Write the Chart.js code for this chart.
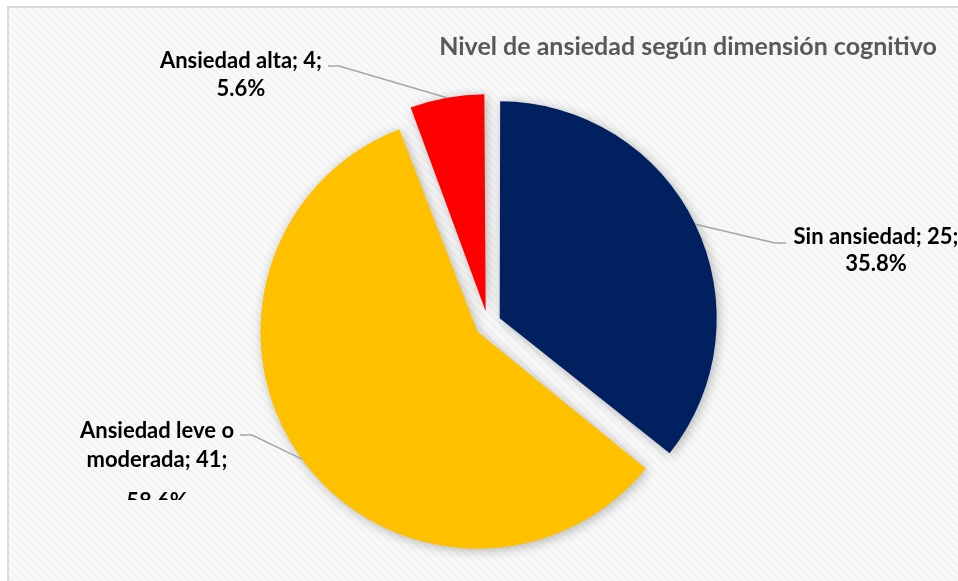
<!DOCTYPE html>
<html lang="es">
<head>
  <meta charset="UTF-8" />
  <title>Nivel de ansiedad según dimensión cognitivo</title>

  <!-- Chart.js from CDN -->
  <script src="https://cdn.jsdelivr.net/npm/chart.js@4"></script>

  <style>
    body {
      margin: 0;
      background: #fff;
    }
    canvas {
      display: block;
    }
  </style>
</head>
<body>
  <canvas id="pieChart" width="958" height="581"></canvas>

  <script>
    // Values
    const categories = ["Sin ansiedad", "Ansiedad leve o moderada", "Ansiedad alta"];
    const counts = [25, 41, 4];
    const percentLabels = ["35.8%", "58.6%", "5.6%"];
    const sliceColors = ["#002060", "#FFC000", "#FF0000"];
    const chartTitle = "Nivel de ansiedad según dimensión cognitivo";

    const W = 958, H = 581;
    const R = 217;        // pie radius (px)
    const EXPLODE = 52;   // Chart.js shifts a slice by offset / 4 -> 13px

    // where each data label sits and how its leader line bends
    const labelLayout = [
      { cx: 876, ys: [237, 264], elbow: [775, 243], tail: [786, 243] },
      { cx: 157, ys: [431, 460, 502], elbow: [252, 435], tail: [240, 435], clipY: 500 },
      { cx: 241, ys: [61, 89], elbow: [339, 66], tail: [328, 66] }
    ];

    const labelFont = "bold 22px Lato";
    const titleFont = "bold 25px Lato";

    // light diagonal texture like the Excel chart area
    function hatchPattern(ctx) {
      const c = document.createElement("canvas");
      c.width = 8;
      c.height = 8;
      const p = c.getContext("2d");
      p.fillStyle = "#f9f9f9";
      p.fillRect(0, 0, 8, 8);
      p.strokeStyle = "#f0f0f0";
      p.lineWidth = 1.5;
      p.beginPath();
      p.moveTo(0, 0); p.lineTo(8, 8);
      p.moveTo(7, -1); p.lineTo(9, 1);
      p.moveTo(-1, 7); p.lineTo(1, 9);
      p.stroke();
      return ctx.createPattern(c, "repeat");
    }

    // greedy word wrap
    function wrap(ctx, text, maxWidth) {
      const words = text.split(" ");
      const lines = [];
      let line = "";
      for (const w of words) {
        const test = line ? line + " " + w : w;
        if (line && ctx.measureText(test).width > maxWidth) {
          lines.push(line);
          line = w;
        } else {
          line = test;
        }
      }
      if (line) lines.push(line);
      return lines;
    }

    // background and frame
    const framePlugin = {
      id: "frame",
      beforeDraw(chart) {
        const ctx = chart.ctx;
        ctx.save();
        ctx.fillStyle = "#ffffff";
        ctx.fillRect(0, 0, W, H);
        ctx.fillStyle = hatchPattern(ctx);
        ctx.fillRect(9, 8, W, H);
        ctx.strokeStyle = "#d9d9d9";
        ctx.lineWidth = 2;
        ctx.strokeRect(8, 7, W + 10, H + 10);
        ctx.restore();
      }
    };

    // keep every slice at the same radius once it is pulled out
    const radiusFixPlugin = {
      id: "radiusFix",
      afterDatasetsUpdate(chart) {
        const meta = chart.getDatasetMeta(0);
        meta.data.forEach(arc => {
          const fix = 1 - Math.sin(Math.min(Math.PI, arc.circumference));
          arc.outerRadius = R - (EXPLODE / 4) * fix;
        });
      }
    };

    // soft shadow under the slices
    const shadowPlugin = {
      id: "pieShadow",
      beforeDatasetsDraw(chart) {
        const ctx = chart.ctx;
        ctx.save();
        ctx.shadowColor = "rgba(0, 0, 0, 0.28)";
        ctx.shadowBlur = 12;
        ctx.shadowOffsetX = 2;
        ctx.shadowOffsetY = 2;
      },
      afterDatasetsDraw(chart) {
        chart.ctx.restore();
      }
    };

    // title, data labels and leader lines
    const labelPlugin = {
      id: "labels",
      afterDraw(chart) {
        const ctx = chart.ctx;
        const meta = chart.getDatasetMeta(0);
        const shift = EXPLODE / 4;

        ctx.save();
        meta.data.forEach((arc, i) => {
          const lay = labelLayout[i];
          const mid = (arc.startAngle + arc.endAngle) / 2;
          const ex = arc.x + Math.cos(mid) * (shift + R);
          const ey = arc.y + Math.sin(mid) * (shift + R);

          ctx.strokeStyle = "#a6a6a6";
          ctx.lineWidth = 1.5;
          ctx.beginPath();
          ctx.moveTo(ex, ey);
          ctx.lineTo(lay.elbow[0], lay.elbow[1]);
          ctx.lineTo(lay.tail[0], lay.tail[1]);
          ctx.stroke();

          ctx.font = labelFont;
          ctx.fillStyle = "#000000";
          ctx.textAlign = "center";
          ctx.textBaseline = "middle";
          const text = categories[i] + "; " + counts[i] + "; " + percentLabels[i];
          const lines = wrap(ctx, text, 190);

          ctx.save();
          if (lay.clipY) {
            ctx.beginPath();
            ctx.rect(0, 0, W, lay.clipY);
            ctx.clip();
          }
          lines.forEach((ln, k) => {
            ctx.fillText(ln, lay.cx, lay.ys[k] ?? lay.ys[lay.ys.length - 1] + 28 * k);
          });
          ctx.restore();
        });

        ctx.font = titleFont;
        ctx.fillStyle = "#595959";
        ctx.textAlign = "center";
        ctx.textBaseline = "middle";
        ctx.fillText(chartTitle, 688, 47);
        ctx.restore();
      }
    };

    const ctx = document.getElementById("pieChart").getContext("2d");

    new Chart(ctx, {
      type: "pie",
      data: {
        labels: categories,
        datasets: [{
          data: counts,
          backgroundColor: sliceColors,
          borderWidth: 0,
          offset: EXPLODE
        }]
      },
      options: {
        responsive: false,
        animation: false,
        radius: R,
        layout: {
          padding: { left: 18, right: 0, top: 67, bottom: 0 }
        },
        plugins: {
          legend: { display: false },
          tooltip: { enabled: false },
          title: { display: false }
        }
      },
      plugins: [framePlugin, radiusFixPlugin, shadowPlugin, labelPlugin]
    });
  </script>
</body>
</html>
